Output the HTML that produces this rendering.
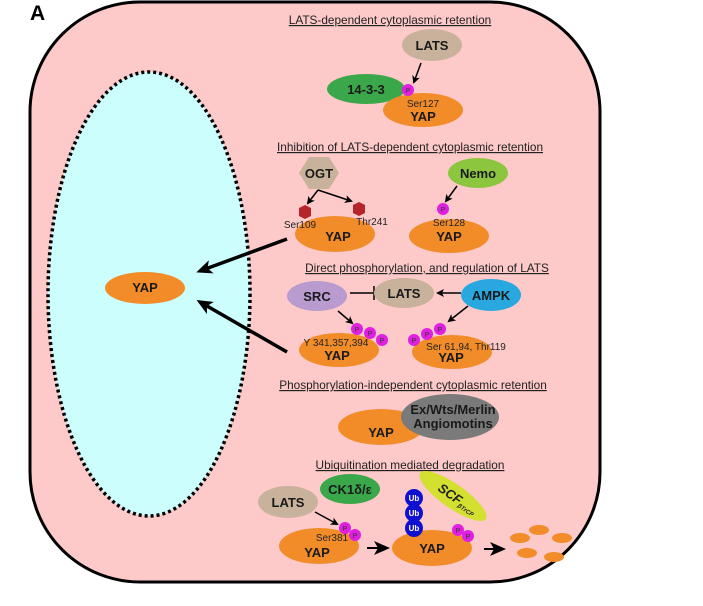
<!DOCTYPE html>
<html><head><style>
body{margin:0;background:#fff}
svg{display:block}
text{font-family:"Liberation Sans",sans-serif}
.t{font-size:11.8px;text-decoration:underline;fill:#222}
.b{font-weight:bold;font-size:13px;fill:#1a1a1a}
.s{font-size:10px;fill:#222}
.p{font-size:7px;fill:#333}
</style></head><body>
<svg width="703" height="606" viewBox="0 0 703 606">
<defs>
<marker id="ar" markerWidth="8" markerHeight="8" refX="6" refY="4" orient="auto" markerUnits="userSpaceOnUse"><path d="M0,0 L8,4 L0,8 L2,4z" fill="#000"/></marker>
<marker id="ar2" markerWidth="16" markerHeight="14" refX="12" refY="7" orient="auto" markerUnits="userSpaceOnUse"><path d="M0,0 L16,7 L0,14 L4,7z" fill="#000"/></marker>
</defs>
<text x="30" y="20" font-size="21" font-weight="bold">A</text>
<rect x="30" y="2" width="570" height="580" rx="110" ry="110" fill="#fdc9c9" stroke="#000" stroke-width="3"/>
<ellipse cx="149" cy="294" rx="101" ry="222" fill="#ccfefe" stroke="#000" stroke-width="3.5" stroke-dasharray="3,3"/>
<ellipse cx="145" cy="288" rx="40" ry="16" fill="#f28c28"/>
<text x="145" y="292" text-anchor="middle" class="b" font-size="11">YAP</text>
<line x1="287" y1="239" x2="200" y2="271" stroke="#000" stroke-width="3.5" marker-end="url(#ar2)"/>
<line x1="287" y1="352" x2="200" y2="302" stroke="#000" stroke-width="3.5" marker-end="url(#ar2)"/>

<text x="390" y="24" class="t" text-anchor="middle">LATS-dependent cytoplasmic retention</text>
<ellipse cx="432" cy="45" rx="30" ry="16" fill="#c9b29b"/><text x="432" y="50" class="b" text-anchor="middle">LATS</text>
<line x1="421" y1="63" x2="414" y2="82" stroke="#000" stroke-width="1.5" marker-end="url(#ar)"/>
<ellipse cx="366" cy="89" rx="39" ry="15" fill="#3aa84a"/><text x="366" y="94" class="b" text-anchor="middle">14-3-3</text>
<ellipse cx="423" cy="110" rx="40" ry="17" fill="#f28c28"/>
<circle cx="408" cy="90" r="6" fill="#e020e0"/><text x="408" y="93" class="p" text-anchor="middle">P</text>
<text x="423" y="107" class="s" text-anchor="middle">Ser127</text><text x="423" y="121" class="b" text-anchor="middle">YAP</text>

<text x="410" y="151" class="t" text-anchor="middle">Inhibition of LATS-dependent cytoplasmic retention</text>
<polygon points="299,173 309,157 329,157 339,173 329,189 309,189" fill="#c9b29b"/><text x="319" y="178" class="b" text-anchor="middle">OGT</text>
<ellipse cx="335" cy="234" rx="40" ry="18" fill="#f28c28"/>
<polyline points="318,190 308,203" fill="none" stroke="#000" stroke-width="1.5" marker-end="url(#ar)"/>
<polyline points="318,190 351,201" fill="none" stroke="#000" stroke-width="1.5" marker-end="url(#ar)"/>
<polygon points="305,205 311,208 311,216 305,219 299,216 299,208" fill="#b5242a"/>
<polygon points="359,202 365,205 365,213 359,216 353,213 353,205" fill="#b5242a"/>
<text x="300" y="228" class="s" text-anchor="middle">Ser109</text><text x="372" y="225" class="s" text-anchor="middle">Thr241</text>
<text x="338" y="241" class="b" text-anchor="middle">YAP</text>
<ellipse cx="478" cy="173" rx="30" ry="15" fill="#8cc63f"/><text x="478" y="178" class="b" text-anchor="middle">Nemo</text>
<line x1="457" y1="186" x2="446" y2="201" stroke="#000" stroke-width="1.5" marker-end="url(#ar)"/>
<ellipse cx="449" cy="236" rx="40" ry="17" fill="#f28c28"/>
<circle cx="443" cy="209" r="6" fill="#e020e0"/><text x="443" y="212" class="p" text-anchor="middle">P</text>
<text x="449" y="226" class="s" text-anchor="middle">Ser128</text><text x="449" y="241" class="b" text-anchor="middle">YAP</text>

<text x="427" y="272" class="t" text-anchor="middle">Direct phosphorylation, and regulation of LATS</text>
<ellipse cx="317" cy="296" rx="30" ry="15" fill="#b99bd0"/><text x="317" y="301" class="b" text-anchor="middle">SRC</text>
<line x1="350" y1="293" x2="373" y2="293" stroke="#000" stroke-width="1.5"/><line x1="374" y1="286" x2="374" y2="300" stroke="#000" stroke-width="1.5"/>
<ellipse cx="404" cy="293" rx="30" ry="15" fill="#c9b29b"/><text x="404" y="298" class="b" text-anchor="middle">LATS</text>
<ellipse cx="491" cy="295" rx="30" ry="16" fill="#29a8e0"/><text x="491" y="300" class="b" text-anchor="middle">AMPK</text>
<line x1="461" y1="293" x2="438" y2="293" stroke="#000" stroke-width="1.5" marker-end="url(#ar)"/>
<line x1="338" y1="311" x2="352" y2="323" stroke="#000" stroke-width="1.5" marker-end="url(#ar)"/>
<line x1="468" y1="306" x2="449" y2="321" stroke="#000" stroke-width="1.5" marker-end="url(#ar)"/>
<ellipse cx="339" cy="350" rx="40" ry="17" fill="#f28c28"/>
<ellipse cx="452" cy="352" rx="40" ry="17" fill="#f28c28"/>
<g fill="#e020e0"><circle cx="357" cy="329" r="6"/><circle cx="370" cy="333" r="6"/><circle cx="382" cy="340" r="6"/><circle cx="414" cy="340" r="6"/><circle cx="427" cy="334" r="6"/><circle cx="440" cy="329" r="6"/></g>
<g text-anchor="middle"><text x="357" y="332" class="p">P</text><text x="370" y="336" class="p">P</text><text x="382" y="343" class="p">P</text><text x="414" y="343" class="p">P</text><text x="427" y="337" class="p">P</text><text x="440" y="332" class="p">P</text></g>
<text x="336" y="346" class="s" text-anchor="middle">Y 341,357,394</text><text x="337" y="360" class="b" text-anchor="middle">YAP</text>
<text x="466" y="350" class="s" text-anchor="middle">Ser 61,94, Thr119</text><text x="451" y="362" class="b" text-anchor="middle">YAP</text>

<text x="413" y="389" class="t" text-anchor="middle">Phosphorylation-independent cytoplasmic retention</text>
<ellipse cx="381" cy="427" rx="43" ry="18" fill="#f28c28"/>
<ellipse cx="450" cy="417" rx="49" ry="23" fill="#7a7a7a"/>
<text x="381" y="437" class="b" text-anchor="middle">YAP</text>
<text x="453" y="414" class="b" text-anchor="middle">Ex/Wts/Merlin</text><text x="453" y="428" class="b" text-anchor="middle">Angiomotins</text>

<text x="410" y="469" class="t" text-anchor="middle">Ubiquitination mediated degradation</text>
<ellipse cx="350" cy="489" rx="30" ry="15" fill="#3aa84a"/><text x="350" y="494" class="b" text-anchor="middle">CK1δ/ε</text>
<ellipse cx="288" cy="502" rx="30" ry="16" fill="#c9b29b"/><text x="288" y="507" class="b" text-anchor="middle">LATS</text>
<line x1="315" y1="512" x2="337" y2="524" stroke="#000" stroke-width="1.5" marker-end="url(#ar)"/>
<ellipse cx="319" cy="546" rx="40" ry="18" fill="#f28c28"/>
<circle cx="345" cy="528" r="6" fill="#e020e0"/><circle cx="355" cy="535" r="6" fill="#e020e0"/>
<text x="345" y="531" class="p" text-anchor="middle">P</text><text x="355" y="538" class="p" text-anchor="middle">P</text>
<text x="332" y="541" class="s" text-anchor="middle">Ser381</text><text x="317" y="557" class="b" text-anchor="middle">YAP</text>
<line x1="367" y1="548" x2="386" y2="548" stroke="#000" stroke-width="2" marker-end="url(#ar2)"/>
<ellipse cx="432" cy="548" rx="40" ry="18" fill="#f28c28"/><text x="432" y="553" class="b" text-anchor="middle">YAP</text>
<g fill="#1010d0"><circle cx="414" cy="498" r="9"/><circle cx="414" cy="513" r="9"/><circle cx="414" cy="528" r="9"/></g>
<g font-size="8" font-weight="bold" fill="#fff" text-anchor="middle"><text x="414" y="501">Ub</text><text x="414" y="516">Ub</text><text x="414" y="531">Ub</text></g>
<ellipse cx="453" cy="496" rx="40" ry="12" fill="#d4e030" transform="rotate(35 453 496)"/>
<text x="437" y="490" font-size="13" font-weight="bold" font-style="italic" fill="#222" transform="rotate(35 437 490)">SCF<tspan font-size="6" dy="2">βTrCP</tspan></text>
<circle cx="458" cy="530" r="6" fill="#e020e0"/><circle cx="468" cy="536" r="6" fill="#e020e0"/>
<text x="458" y="533" class="p" text-anchor="middle">P</text><text x="468" y="539" class="p" text-anchor="middle">P</text>
<line x1="484" y1="549" x2="502" y2="549" stroke="#000" stroke-width="2" marker-end="url(#ar2)"/>
<g fill="#f28c28"><ellipse cx="520" cy="538" rx="10" ry="5"/><ellipse cx="539" cy="530" rx="10" ry="5"/><ellipse cx="562" cy="538" rx="10" ry="5"/><ellipse cx="527" cy="553" rx="10" ry="5"/><ellipse cx="554" cy="557" rx="10" ry="5"/></g>
</svg>
</body></html>
